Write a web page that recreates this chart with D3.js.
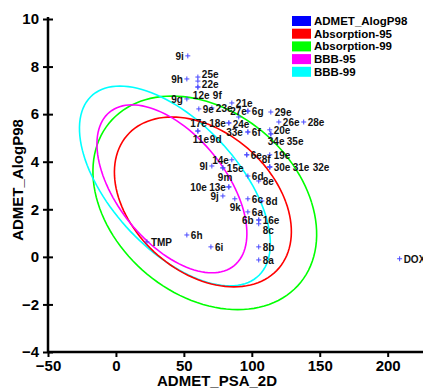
<!DOCTYPE html>
<html>
<head>
<meta charset="utf-8">
<script src="https://cdn.jsdelivr.net/npm/d3@7"></script>
<style>
  body { margin: 0; background: #fff; }
  svg { display: block; font-family: "Liberation Sans", Arial, sans-serif; font-weight: bold; }
</style>
</head>
<body>
<div id="app"></div>
<script>
// compounds: PSA_2D (x) and AlogP98 (y)
const names = ["9i", "9h", "25e", "22e", "12e", "9f", "9g", "21e", "9e", "23e", "27e", "6g", "29e",
  "17e", "18e", "24e", "26e", "28e", "11e", "9d", "33e", "6f", "20e", "34e", "35e",
  "6e", "8f", "19e", "14e", "9l", "15e", "30e", "31e", "32e", "9m", "6d", "8e",
  "13e", "10e", "9j", "6c", "8d", "9k", "6a", "16e", "6b", "8c", "6i", "6h", "TMP", "8b", "8a", "DOX"];
const psa = [52.9, 52.2, 60.3, 60.3, 60.3, 60.3, 52.2, 85.3, 61.0, 70.6, 97.1, 97.1, 114.0,
  83.1, 83.1, 90.4, 119.9, 138.2, 60.3, 60.3, 97.1, 97.1, 113.2, 114.0, 114.0,
  96.3, 96.3, 113.2, 85.3, 70.6, 78.7, 113.2, 113.2, 113.2, 78.7, 97.1, 105.1,
  83.1, 83.1, 78.7, 97.1, 107.4, 87.5, 97.1, 105.1, 105.1, 105.1, 69.9, 52.2, 22.8, 105.1, 105.1, 208.8];
const alogp = [8.45, 7.48, 7.56, 7.39, 7.14, 7.14, 6.64, 6.47, 6.22, 6.26, 6.13, 6.13, 6.09,
  5.63, 5.63, 5.88, 5.67, 5.67, 5.29, 5.29, 5.25, 5.25, 5.34, 5.17, 5.17,
  4.29, 4.29, 4.29, 4.08, 3.82, 3.74, 3.78, 3.78, 3.78, 3.74, 3.40, 3.19,
  2.94, 2.94, 2.56, 2.44, 2.35, 2.44, 1.89, 1.55, 1.55, 1.39, 0.42, 0.92, 0.63, 0.42, -0.13, -0.08];

// confidence ellipses: centre, topmost point, half width through centre
const ellipseNames = ["Absorption-99", "BBB-99", "Absorption-95", "BBB-95"];
const ellipseColors = ["#00ff00", "#00ffff", "#ff0000", "#ff00ff"];
const ellipseCx = [65.4, 43.4, 64.0, 41.2];
const ellipseCy = [2.27, 2.98, 2.31, 2.86];
const ellipseTopX = [41.2, 2.9, 41.2, 11.8];
const ellipseTopY = [6.76, 7.18, 5.88, 6.39];
const ellipseHalfW = [78.7, 57.4, 61.0, 46.7];

const legendNames = ["ADMET_AlogP98", "Absorption-95", "Absorption-99", "BBB-95", "BBB-99"];
const legendColors = ["#0000ff", "#ff0000", "#00ff00", "#ff00ff", "#00ffff"];

const xTicks = [-50, 0, 50, 100, 150, 200];
const yTicks = [-4, -2, 0, 2, 4, 6, 8, 10];

// label placement [dx, dy, anchor]
const nudge = {
  "9i": [-4, 4, "end"], "9h": [-4, 4, "end"], "9g": [-4, 4, "end"],
  "25e": [4, 1], "22e": [4, 7],
  "12e": [-5, 11.5], "9f": [15, 11.5], "27e": [-1, 4, "end"],
  "18e": [-3, 4, "end"], "17e": [-22, 4, "end"], "24e": [-6, 11],
  "11e": [-5, 11.5], "9d": [12, 11.5], "33e": [-5, 4, "end"],
  "34e": [-3, 11.5], "35e": [16, 11.5], "8f": [15, 8],
  "14e": [-3, 4, "end"], "9l": [-4, 4, "end"],
  "31e": [23, 4], "32e": [43, 4], "9m": [-5, 13],
  "13e": [-3, 4, "end"], "10e": [-22, 4, "end"], "9j": [-4, 4, "end"],
  "9k": [-5, 12], "6b": [-5, 4, "end"], "8c": [4, 10]
};

const W = 423, H = 390;
const svg = d3.select("#app").append("svg").attr("width", W).attr("height", H);

const x = d3.scaleLinear().domain([-50, 226]).range([48, 423]);
const y = d3.scaleLinear().domain([-4, 10]).range([352, 19]);

// ellipses
const line = d3.line().x((d) => x(d[0])).y((d) => y(d[1]));
ellipseNames.forEach((n, i) => {
  const cx = ellipseCx[i], cy = ellipseCy[i];
  const ux = ellipseTopX[i] - cx, uy = ellipseTopY[i] - cy;
  const pts = d3.range(0, 361, 3).map((deg) => {
    const t = (deg * Math.PI) / 180;
    return [cx + ux * Math.sin(t) + ellipseHalfW[i] * Math.cos(t), cy + uy * Math.sin(t)];
  });
  svg.append("path").attr("d", line(pts)).attr("fill", "none")
    .attr("stroke", ellipseColors[i]).attr("stroke-width", 1.6);
});

// axes
const xAxis = svg.append("g").attr("transform", "translate(0,352)")
  .call(d3.axisBottom(x).tickValues(xTicks).tickSize(5).tickPadding(3).tickFormat(d3.format("d")));
const yAxis = svg.append("g").attr("transform", "translate(48,0)")
  .call(d3.axisLeft(y).tickValues(yTicks).tickSize(5).tickPadding(4).tickFormat(d3.format("d")));
[xAxis, yAxis].forEach((g) => {
  g.select(".domain").attr("stroke", "#000").attr("stroke-width", 2.5);
  g.selectAll(".tick line").attr("stroke", "#000").attr("stroke-width", 2);
  g.selectAll(".tick text").attr("fill", "#000").style("font-size", "15px")
    .style("font-family", "'Liberation Sans', Arial, sans-serif").style("font-weight", "bold");
});
xAxis.select(".domain").attr("d", "M48,0H423");
yAxis.select(".domain").attr("d", "M0,352V17");
yAxis.selectAll(".tick line").attr("x1", -5).attr("x2", 5);

svg.append("text").attr("x", 217).attr("y", 386).attr("text-anchor", "middle")
  .style("font-size", "15px").text("ADMET_PSA_2D");
svg.append("text").attr("transform", "translate(23,180) rotate(-90)").attr("text-anchor", "middle")
  .style("font-size", "15px").text("ADMET_AlogP98");

// points
const pts = names.map((n, i) => ({ n, px: x(psa[i]), py: y(alogp[i]) }));
svg.append("g").selectAll("path").data(pts).join("path")
  .attr("d", (d) => `M${d.px - 2.5},${d.py}H${d.px + 2.5}M${d.px},${d.py - 2.5}V${d.py + 2.5}`)
  .attr("stroke", "#4a4aff").attr("stroke-width", 1);
svg.append("g").selectAll("text").data(pts).join("text")
  .attr("x", (d) => d.px + (nudge[d.n] ? nudge[d.n][0] : 4))
  .attr("y", (d) => d.py + (nudge[d.n] ? nudge[d.n][1] : 4))
  .attr("text-anchor", (d) => (nudge[d.n] && nudge[d.n][2]) || "start")
  .style("font-size", "10px").attr("fill", "#111").text((d) => d.n);

// legend
const leg = svg.append("g");
legendNames.forEach((n, i) => {
  const yy = 21 + i * 12.7;
  leg.append("rect").attr("x", 292).attr("y", yy - 5).attr("width", 19).attr("height", 10)
    .attr("fill", legendColors[i]);
  leg.append("text").attr("x", 314).attr("y", yy + 4).style("font-size", "11.5px").text(n);
});
</script>
</body>
</html>
